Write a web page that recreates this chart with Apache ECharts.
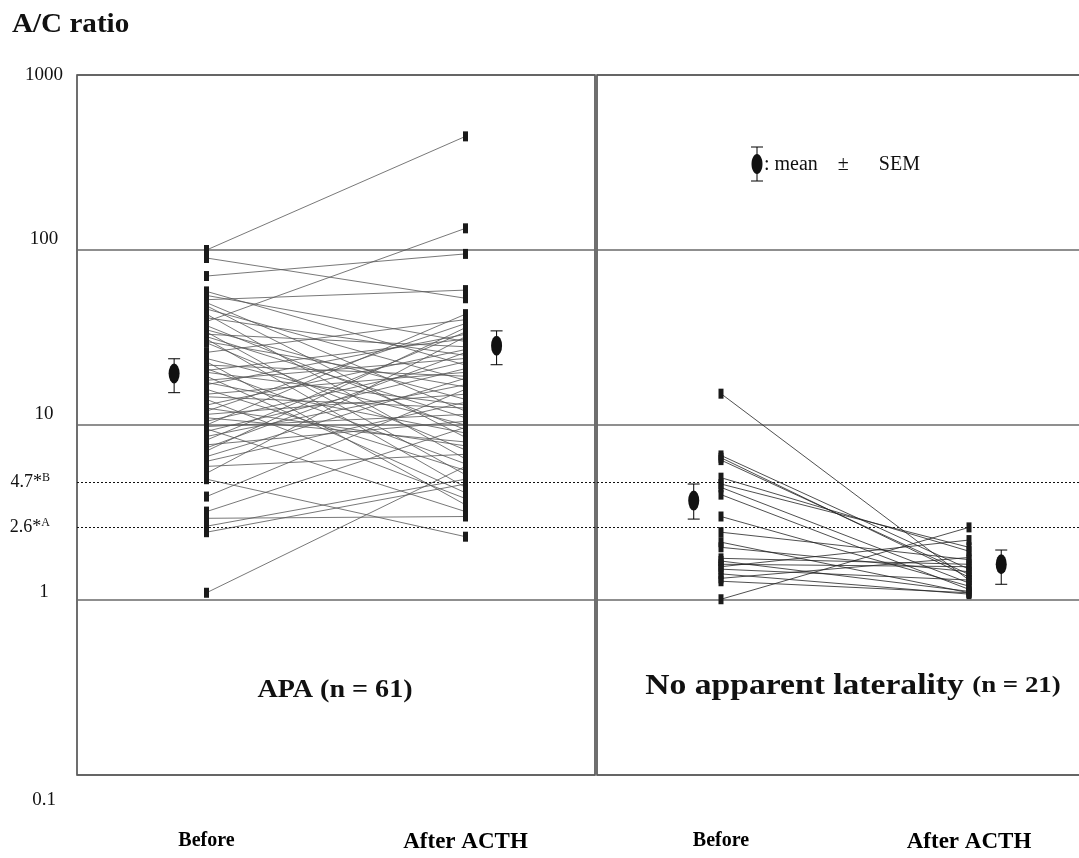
<!DOCTYPE html>
<html><head><meta charset="utf-8">
<script src="https://cdn.jsdelivr.net/npm/echarts@6/dist/echarts.min.js"></script>
<style>html,body{margin:0;padding:0;background:#fff}#c{width:1079px;height:858px}</style>
</head><body><div id="c"></div>
<script>
// ---- data ----
const xCategories = ['Before', 'After ACTH'];
const yTickLabels = ['0.1', '1', '10', '100', '1000'];
const cutoffValues = [4.7, 2.6];
const cutoffLabels = ['4.7*{s|B}', '2.6*{s|A}'];

const apaBefore = [100, 90, 71, 58, 55, 52, 50, 48, 46, 43, 41, 39, 37, 35, 34, 33, 32, 31, 30, 29.5,
  26, 24, 23, 22, 21, 20.5, 20, 19, 18, 17.5, 17, 16, 15, 14.5, 14, 13, 12.5, 12, 11.5, 11, 10.5, 10, 9.8, 9.5, 9.2,
  8.6, 8.2, 7.7, 7.4, 7.1, 6.6, 6.2, 5.8, 5.3, 4.9, 3.9, 3.2, 2.93, 2.64, 2.44, 1.1];
const apaAfter = [446, 53, 95, 22, 30, 59, 12, 8.5, 18, 6.4, 25, 133, 9.4, 14, 5.2, 28, 11, 4.4, 16.5, 7.2,
  40, 10, 3.5, 19, 6, 31, 13, 4.1, 24, 9, 33, 5.5, 20, 12.5, 3.8, 27, 7.6, 38, 15, 8, 23, 43, 11.5, 3.2, 21,
  17, 34, 10.5, 26, 36, 18.5, 13.5, 6.8, 32, 2.3, 16, 9.7, 3.0, 4.9, 4.6, 5.8];
const nalBefore = [15.1, 6.7, 6.5, 6.3, 5.0, 4.6, 4.4, 4.0, 3.0, 2.44, 2.14, 2.0, 1.73, 1.67, 1.6, 1.55, 1.5, 1.41, 1.33, 1.28, 1.01];
const nalAfter  = [1.3, 1.5, 1.35, 1.4, 1.9, 2.0, 1.25, 1.15, 1.2, 1.7, 1.1, 1.45, 1.6, 1.12, 1.55, 2.2, 1.3, 1.08, 1.75, 1.1, 2.6];

const apaMean = [19.7, 28.4], apaSemLow = [15.3, 22.1], apaSemHigh = [23.9, 34.5];
const nalMean = [3.7, 1.6], nalSemLow = [2.9, 1.23], nalSemHigh = [4.6, 1.93];

// ---- styling ----
const FONT = 'Liberation Serif';
const chart = echarts.init(document.getElementById('c'), null, {renderer: 'canvas'});

function panelSeries(gi, before, after, mean, lo, hi, lineColor, meanOff, withLabels) {
  const s = [];
  for (let i = 0; i < before.length; i++) {
    s.push({type: 'line', xAxisIndex: gi, yAxisIndex: gi, silent: true, animation: false,
      symbol: 'none', data: [[1, before[i]], [2, after[i]]],
      lineStyle: {color: lineColor, width: 0.8}, z: 2});
  }
  const pts = [];
  before.forEach(v => pts.push([1, v]));
  after.forEach(v => pts.push([2, v]));
  s.push({type: 'scatter', xAxisIndex: gi, yAxisIndex: gi, silent: true, animation: false,
    symbol: 'rect', symbolSize: [5, 10], itemStyle: {color: '#1a1a1a', opacity: 1}, data: pts, z: 4,
    markLine: {silent: true, symbol: 'none', animation: false,
      lineStyle: {type: [2, 2], color: '#111', width: 1},
      label: {show: withLabels, position: 'start', distance: 27, color: '#111', fontFamily: FONT, fontSize: 18,
        rich: {s: {fontSize: 12, fontFamily: FONT, verticalAlign: 'top', color: '#111', padding: [0, 0, 10, 0]}}},
      data: cutoffValues.map((v, i) => ({yAxis: v, label: {formatter: cutoffLabels[i]}}))}});
  const mx = [1 - meanOff[0], 2 + meanOff[1]];
  s.push({type: 'custom', xAxisIndex: gi, yAxisIndex: gi, silent: true, animation: false, z: 5,
    data: mean.map((m, i) => [mx[i], lo[i], hi[i]]),
    encode: {x: 0, y: [1, 2]},
    renderItem: function (params, api) {
      const x = api.value(0);
      const p1 = api.coord([x, api.value(1)]);
      const p2 = api.coord([x, api.value(2)]);
      const c = 6, st = {stroke: '#000', lineWidth: 1};
      return {type: 'group', children: [
        {type: 'line', shape: {x1: p1[0], y1: p1[1], x2: p2[0], y2: p2[1]}, style: st},
        {type: 'line', shape: {x1: p1[0] - c, y1: p1[1], x2: p1[0] + c, y2: p1[1]}, style: st},
        {type: 'line', shape: {x1: p2[0] - c, y1: p2[1], x2: p2[0] + c, y2: p2[1]}, style: st}
      ]};
    }});
  s.push({type: 'scatter', xAxisIndex: gi, yAxisIndex: gi, silent: true, animation: false, z: 6,
    symbol: 'circle', symbolSize: [11, 20], itemStyle: {color: '#111', opacity: 1},
    data: mean.map((m, i) => [mx[i], m])});
  return s;
}

function yAxisCfg(gi, showLabels) {
  return {type: 'log', logBase: 10, min: 0.1, max: 1000, gridIndex: gi,
    axisLine: {show: false}, axisTick: {show: false},
    splitLine: {show: true, lineStyle: {color: '#6a6a6a', width: 1.5}},
    axisLabel: {show: showLabels, align: 'center', margin: 33, color: '#111', fontFamily: FONT, fontSize: 19,
      formatter: function (v) {
        const idx = yTickLabels.indexOf(String(+v.toPrecision(3)));
        const t = idx >= 0 ? yTickLabels[idx] : String(v);
        if (t === '1000') return '{a|' + t + '}';
        if (t === '0.1') return '{c|' + t + '}';
        if (t === '1') return '{d|' + t + '}';
        return '{b|' + t + '}';
      },
      rich: {a: {fontFamily: FONT, fontSize: 19, color: '#111'},
        b: {fontFamily: FONT, fontSize: 19, color: '#111', padding: [0, 0, 22, 0]},
        d: {fontFamily: FONT, fontSize: 19, color: '#111', padding: [0, 0, 16, 0]},
        c: {fontFamily: FONT, fontSize: 19, color: '#111', padding: [50, 0, 0, 0]}}}};
}
function xAxisCfg(gi) {
  return {type: 'value', gridIndex: gi, min: 0.5, max: 2.5, interval: 0.5,
    axisLine: {show: false}, axisTick: {show: false}, splitLine: {show: false},
    axisLabel: {margin: 56, color: '#000', fontFamily: FONT, fontWeight: 'bold', fontSize: 20,
      formatter: v => (v === 1 ? '{p|' + xCategories[0] + '}' : v === 2 ? '{q|' + xCategories[1] + '}' : ''),
      rich: {p: {fontFamily: FONT, fontWeight: 'bold', fontSize: 20, color: '#000'},
        q: {fontFamily: FONT, fontWeight: 'bold', fontSize: 23, color: '#000'}}}};
}

const option = {
  backgroundColor: '#fff',
  animation: false,
  grid: [
    {left: 77, top: 75, width: 518, height: 700, show: true, borderColor: '#222', borderWidth: 1.3,
      backgroundColor: 'transparent', containLabel: false, outerBoundsMode: 'none'},
    {left: 597, top: 75, width: 496, height: 700, show: true, borderColor: '#222', borderWidth: 1.3,
      backgroundColor: 'transparent', containLabel: false, outerBoundsMode: 'none'}
  ],
  xAxis: [xAxisCfg(0), xAxisCfg(1)],
  yAxis: [yAxisCfg(0, true), yAxisCfg(1, false)],
  series: [].concat(
    panelSeries(0, apaBefore, apaAfter, apaMean, apaSemLow, apaSemHigh, '#555', [0.125, 0.12], true),
    panelSeries(1, nalBefore, nalAfter, nalMean, nalSemLow, nalSemHigh, '#222', [0.11, 0.13], false)
  ),
  graphic: [
    {type: 'text', x: 12, y: 25, scaleX: 1.04, style: {text: 'A/C ratio', textVerticalAlign: 'middle', fontFamily: FONT, fontWeight: 'bold', fontSize: 28, fill: '#111'}},
    {type: 'text', x: 335, y: 690, scaleX: 1.08, style: {text: 'APA (n = 61)', textAlign: 'center', textVerticalAlign: 'middle', fontFamily: FONT, fontWeight: 'bold', fontSize: 26, fill: '#111'}},
    {type: 'text', x: 853, y: 686, scaleX: 1.12, style: {text: '{a|No apparent laterality }{b|(n = 21)}', textAlign: 'center', textVerticalAlign: 'middle',
      rich: {a: {fontFamily: FONT, fontWeight: 'bold', fontSize: 30, fill: '#111'}, b: {fontFamily: FONT, fontWeight: 'bold', fontSize: 24, fill: '#111'}}}},
    {type: 'group', children: [
      {type: 'line', shape: {x1: 757, y1: 147, x2: 757, y2: 181}, style: {stroke: '#000', lineWidth: 1}},
      {type: 'line', shape: {x1: 751, y1: 147, x2: 763, y2: 147}, style: {stroke: '#000', lineWidth: 1}},
      {type: 'line', shape: {x1: 751, y1: 181, x2: 763, y2: 181}, style: {stroke: '#000', lineWidth: 1}},
      {type: 'ellipse', shape: {cx: 757, cy: 164, rx: 5.5, ry: 10}, style: {fill: '#111'}},
      {type: 'text', x: 764, y: 165, style: {text: ': mean    \u00b1      SEM', textVerticalAlign: 'middle', fontFamily: FONT, fontSize: 20, fill: '#111'}}
    ]}
  ]
};
chart.setOption(option);
</script></body></html>
